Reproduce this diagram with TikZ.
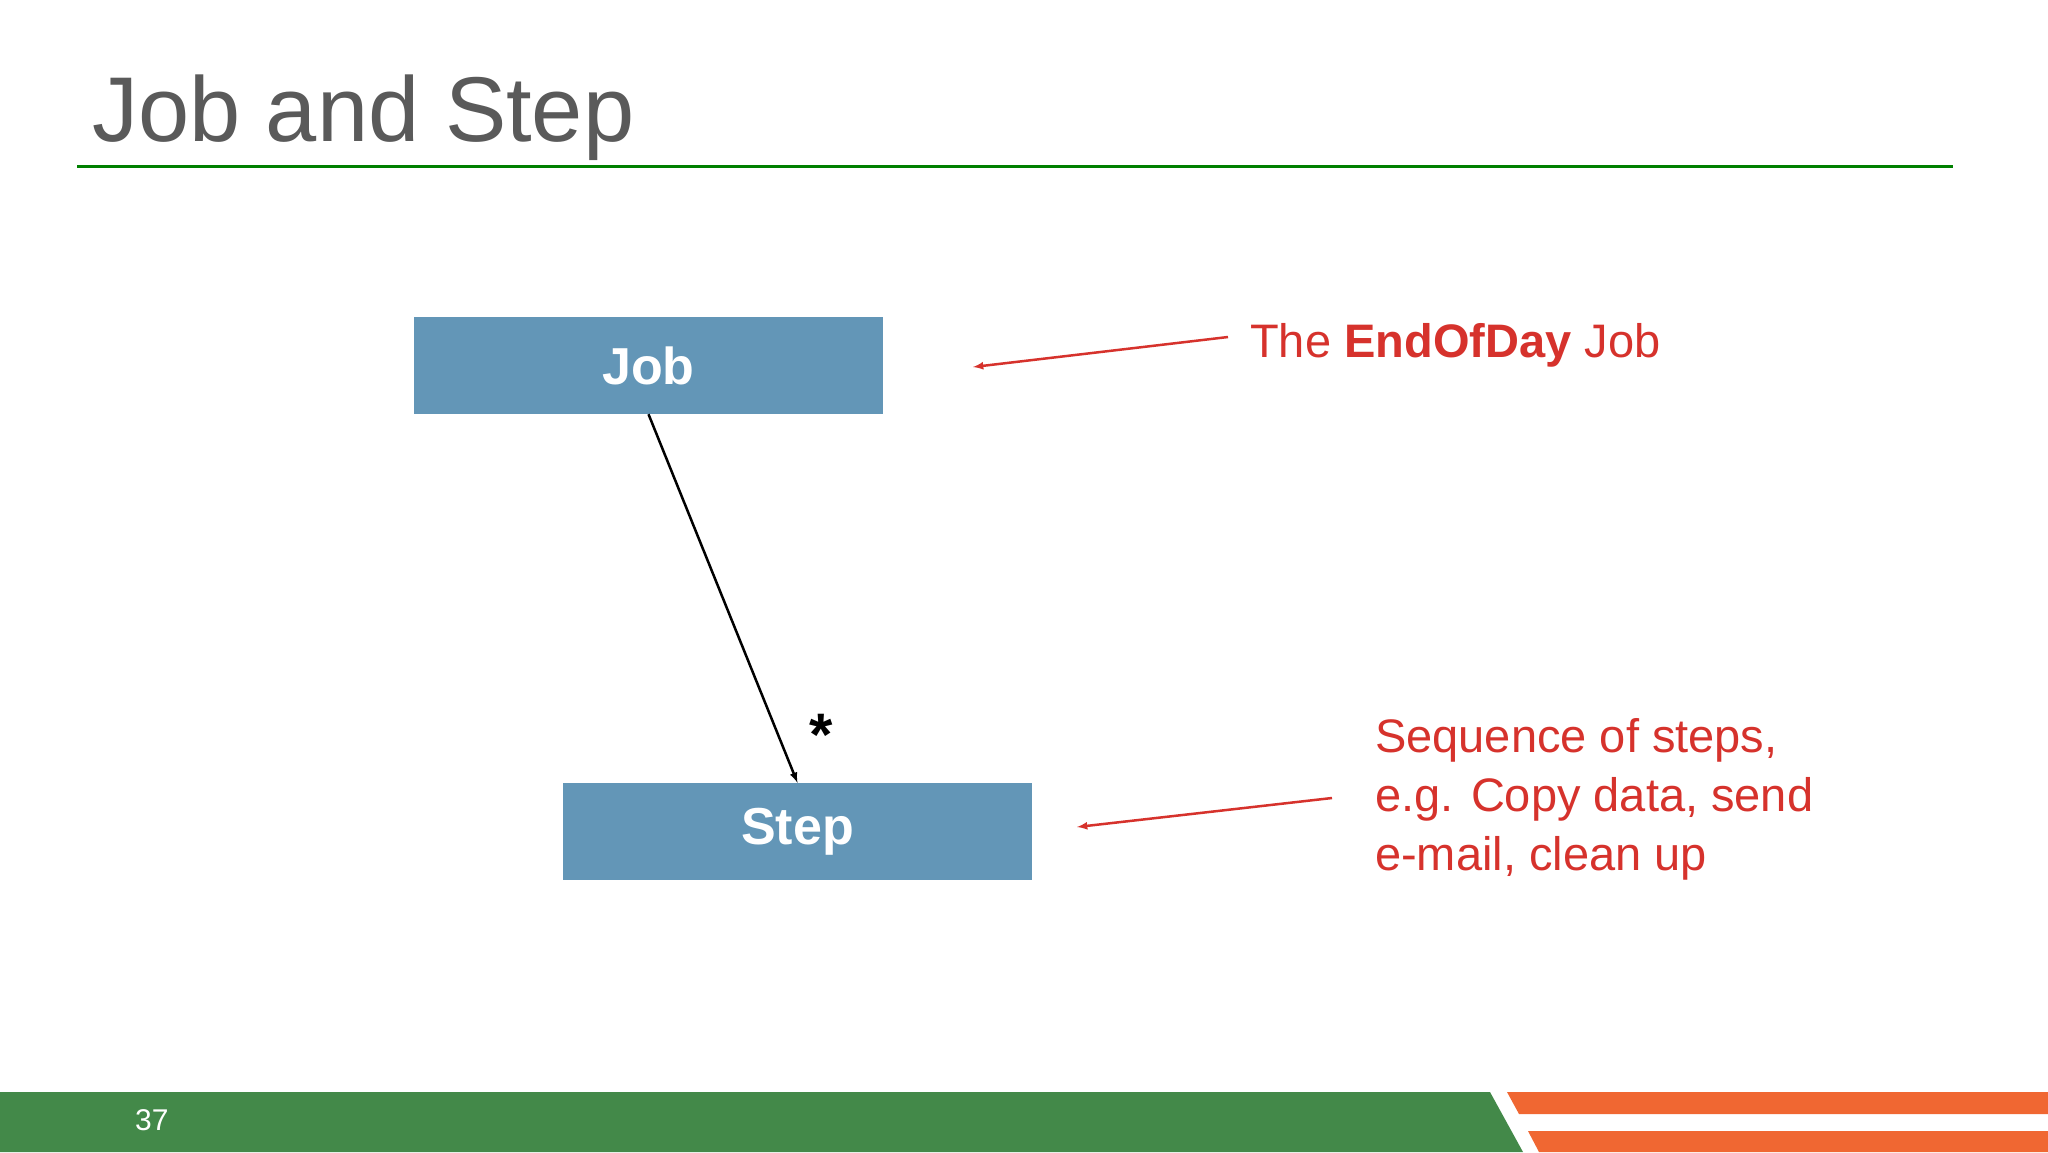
\documentclass[tikz,border=0pt]{standalone}
\usepackage{fontspec}
\setmainfont{Liberation Sans}
\begin{document}
\begin{tikzpicture}[x=1pt,y=-1pt]
\definecolor{boxColor}{RGB}{99,150,183}
\definecolor{noteColor}{RGB}{214,50,44}
\definecolor{bandColor}{RGB}{67,137,73}
\definecolor{stripeColor}{RGB}{240,103,50}
\definecolor{titleColor}{RGB}{90,90,90}
\tikzset{
  classbox/.style={fill=boxColor,minimum width=469pt,minimum height=97pt,inner sep=0pt,
    text=white,font=\fontsize{52}{60}\selectfont\bfseries},
  note/.style={text=noteColor,anchor=base west,inner sep=0pt,font=\fontsize{47}{59}\selectfont},
  pointer/.style={draw=noteColor,line width=2.5pt,-latex}
}
\path[use as bounding box,fill=white] (0,0) rectangle (2048,1152);
% title
\node[text=titleColor,anchor=base west,inner sep=0pt,font=\fontsize{92}{100}\selectfont] (title) at (92,141) {Job and Step};
\draw[draw=green!50!black,line width=3pt] (77,166) -- (1953,166);
% boxes
\node[classbox] (job) at (648.5,365.5) {Job};
\node[classbox] (step) at (797.5,831.5) {Step};
\draw[line width=2.5pt,-latex] (job.south) -- (step.north);
\node[font=\fontsize{60}{60}\selectfont\bfseries,inner sep=0pt] (star) at (821,735) {*};
% notes
\node[note] (jobnote) at (1250,357) {The \textbf{EndOfDay} Job};
\node[note,anchor=north west,align=left,text depth=0pt] (stepnote) at (1375,718) {Sequence of steps,\\e.g. Copy data, send\\e-mail, clean up};
\coordinate (jobtail) at (1228,337);
\coordinate (jobtip) at (973,367);
\coordinate (steptail) at (1332,798);
\coordinate (steptip) at (1077,827);
\draw[pointer] (jobtail) -- (jobtip);
\draw[pointer] (steptail) -- (steptip);
% footer
\fill[bandColor] (0,1092) -- (1490,1092) -- (1523,1152) -- (0,1152) -- cycle;
\fill[stripeColor] (1507,1092) -- (2048,1092) -- (2048,1114) -- (1519,1114) -- cycle;
\fill[stripeColor] (1528,1131) -- (2048,1131) -- (2048,1152) -- (1539,1152) -- cycle;
\node[text=white,anchor=base west,inner sep=0pt,font=\fontsize{30}{30}\selectfont] (pagenum) at (135,1130) {37};
\end{tikzpicture}
\end{document}
